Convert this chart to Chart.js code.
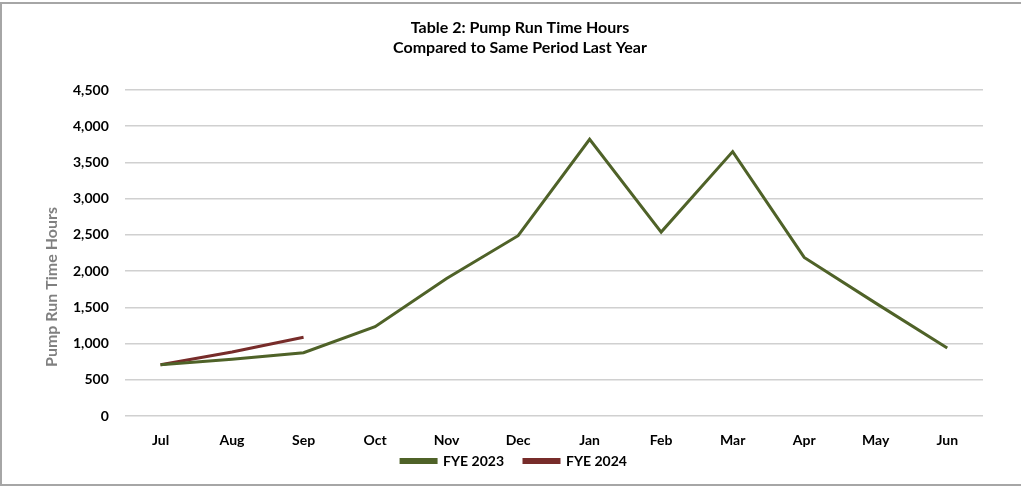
<!DOCTYPE html>
<html>
<head>
<meta charset="utf-8">
<script src="https://cdn.jsdelivr.net/npm/chart.js@4"></script>
<style>
  html, body { margin: 0; padding: 0; background: #ffffff; overflow: hidden; width: 1021px; height: 487px; }
  #frame {
    position: absolute; left: 0; top: 2px;
    width: 1040px; height: 484px;
    box-sizing: border-box;
    border: 2px solid #a6a6a6;
    background: #ffffff;
  }
  #wrap { position: absolute; left: 0; top: 0; width: 1036px; height: 480px; }
</style>
</head>
<body>
<div id="frame"><div id="wrap"><canvas id="c"></canvas></div></div>
<script>
// Months of the fiscal year (July to June)
const months = ['Jul', 'Aug', 'Sep', 'Oct', 'Nov', 'Dec', 'Jan', 'Feb', 'Mar', 'Apr', 'May', 'Jun'];

// Pump run time hours per month
const fye2023 = [710, 785, 875, 1235, 1900, 2490, 3820, 2540, 3650, 2190, 1560, 940];
const fye2024 = [710, 885, 1090];

const titleLines = ['Table 2: Pump Run Time Hours', 'Compared to Same Period Last Year'];
const yAxisTitle = 'Pump Run Time Hours';

const FONT = 'Lato, "Open Sans", sans-serif';
const LEGEND_PAD = 20;
const LEGEND_FONT = 14;

// Y axis title drawn beside the tick labels
const yTitlePlugin = {
  id: 'yTitle',
  afterDraw(chart) {
    const ctx = chart.ctx;
    ctx.save();
    ctx.translate(50, 283);
    ctx.rotate(-Math.PI / 2);
    ctx.font = 'bold 16px ' + FONT;
    ctx.fillStyle = '#808080';
    ctx.textAlign = 'center';
    ctx.textBaseline = 'middle';
    ctx.fillText(yAxisTitle, 0, 0);
    ctx.restore();
  }
};

// Keep the legend row close under the month labels
const legendPlacePlugin = {
  id: 'legendPlace',
  afterLayout(chart) {
    const lg = chart.legend;
    if (!lg) return;
    lg.top = 457 - LEGEND_PAD - LEGEND_FONT / 2;
    lg.bottom = lg.top + 2 * LEGEND_PAD + LEGEND_FONT;
    lg.height = lg.bottom - lg.top;
    lg.left -= 6;
    lg.right -= 6;
  }
};

new Chart(document.getElementById('c'), {
  type: 'line',
  data: {
    labels: months,
    datasets: [
      {
        label: 'FYE 2023',
        data: fye2023,
        borderColor: '#4f6228',
        backgroundColor: '#4f6228',
        borderWidth: 3,
        pointRadius: 0,
        tension: 0
      },
      {
        label: 'FYE 2024',
        data: fye2024,
        borderColor: '#772c2a',
        backgroundColor: '#772c2a',
        borderWidth: 3,
        pointRadius: 0,
        tension: 0
      }
    ]
  },
  options: {
    responsive: true,
    maintainAspectRatio: false,
    animation: false,
    layout: { padding: { left: 55, right: 55, top: 0, bottom: 0 } },
    plugins: {
      title: {
        display: true,
        text: titleLines,
        color: '#000000',
        font: { family: FONT, size: 16, weight: 'bold', lineHeight: 1.25 },
        padding: { top: 14, bottom: 32 }
      },
      legend: {
        display: true,
        position: 'bottom',
        maxHeight: 19,
        labels: {
          color: '#000000',
          font: { family: FONT, size: LEGEND_FONT, weight: 'bold' },
          boxWidth: 35,
          boxHeight: 3,
          padding: LEGEND_PAD
        }
      },
      tooltip: { enabled: false }
    },
    scales: {
      x: {
        offset: true,
        grid: { display: false, drawTicks: false },
        border: { display: false },
        ticks: {
          color: '#000000',
          font: { family: FONT, size: 14, weight: 'bold' },
          padding: 16,
          maxRotation: 0
        }
      },
      y: {
        min: 0,
        max: 4500,
        ticks: {
          stepSize: 500,
          color: '#000000',
          font: { family: FONT, size: 14, weight: 'bold' },
          padding: 16
        },
        grid: { color: '#d0d0d0', lineWidth: 1.5, drawTicks: false },
        border: { display: false }
      }
    }
  },
  plugins: [yTitlePlugin, legendPlacePlugin]
});
</script>
</body>
</html>
